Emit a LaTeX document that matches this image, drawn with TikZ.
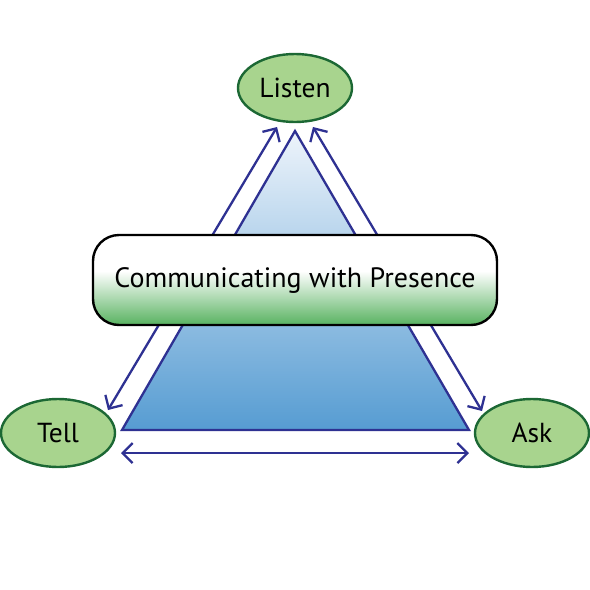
\documentclass[tikz,border=0pt]{standalone}
\usepackage{fontspec}
\setmainfont{PT Sans}
\usetikzlibrary{shapes.geometric,arrows.meta}
\definecolor{arrowblue}{RGB}{46,49,146}
\definecolor{ellfill}{RGB}{168,212,142}
\definecolor{ellline}{RGB}{28,104,52}
\definecolor{boxgreen}{RGB}{88,178,96}
\definecolor{tritop}{RGB}{238,244,251}
\definecolor{tribot}{RGB}{86,156,210}
\pgfdeclareverticalshading{boxshade}{100bp}{color(0bp)=(boxgreen); color(25bp)=(boxgreen); color(55bp)=(white); color(75bp)=(white); color(100bp)=(white)}
\tikzset{
  ell/.style={ellipse, draw=ellline, line width=2.4pt, fill=ellfill, inner sep=0pt, minimum width=114pt, minimum height=68pt, font=\fontsize{27.5}{32}\selectfont},
  arr/.style={draw=arrowblue, line width=2.3pt, {Straight Barb[length=10pt,width=20pt,line width=2.3pt]}-{Straight Barb[length=10pt,width=20pt,line width=2.3pt]}},
  mainbox/.style={draw=black, line width=2.4pt, rounded corners=26pt, shading=boxshade, minimum width=404pt, minimum height=90pt, inner sep=0pt, font=\fontsize{28}{32}\selectfont},
}
\begin{document}
\begin{tikzpicture}[x=1pt,y=-1pt]
\useasboundingbox (0,0) rectangle (590,590);
% triangle
\coordinate (apex) at (295,131);
\coordinate (bl) at (122,430);
\coordinate (br) at (469,430);
\path[top color=tritop, bottom color=tribot] (apex) -- (bl) -- (br) -- cycle;
\draw[arrowblue, line width=2.3pt, line join=miter] (apex) -- (bl) -- (br) -- cycle;
% arrow endpoints
\coordinate (l1) at (108,410);
\coordinate (l2) at (277,127);
\coordinate (r1) at (313,127);
\coordinate (r2) at (482,411);
\coordinate (b1) at (121,453);
\coordinate (b2) at (469,453);
\draw[arr] (l1) -- (l2);
\draw[arr] (r1) -- (r2);
\draw[arr] (b1) -- (b2);
% central box
\node[mainbox] (cwp) at (295,280) {Communicating with Presence};
% ellipses
\node[ell] (listen) at (295,88) {Listen};
\node[ell] (tell) at (58,433) {Tell};
\node[ell] (ask) at (532,433) {Ask};
\end{tikzpicture}
\end{document}
